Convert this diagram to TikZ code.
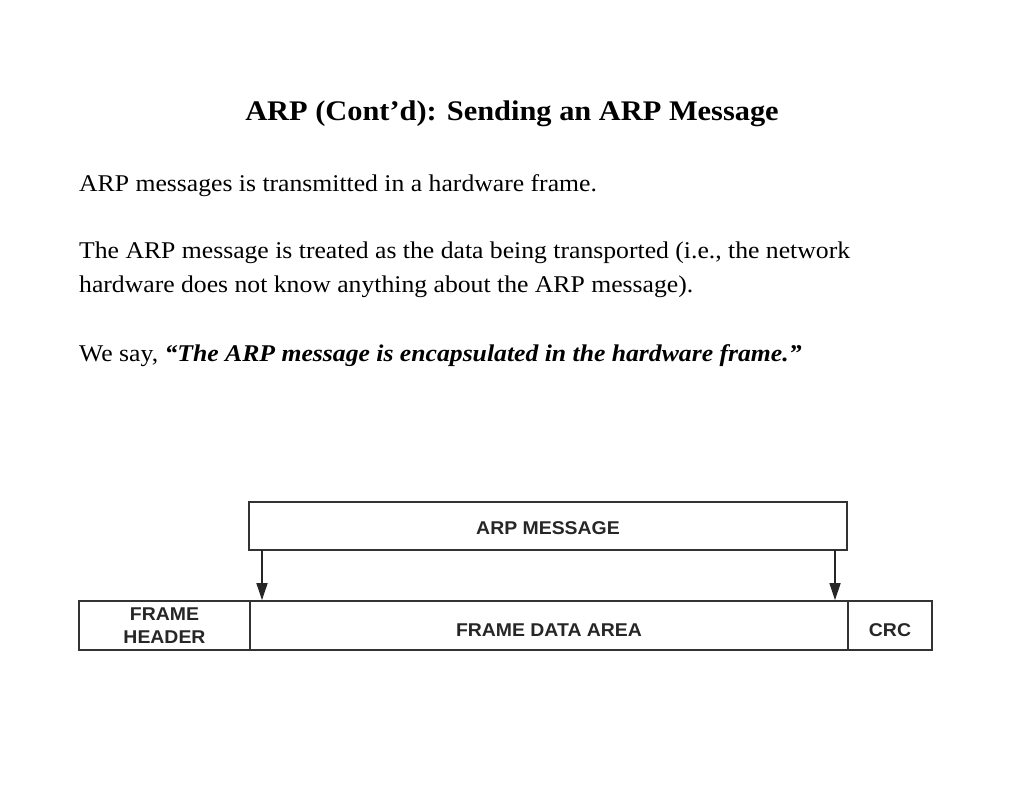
\documentclass[tikz,border=0pt]{standalone}
\usepackage{fontspec}
\setmainfont{Liberation Serif}[FakeStretch=1.07]
\newfontfamily\diagfont{Liberation Sans}[FakeStretch=1.05]
\usetikzlibrary{arrows.meta}
\begin{document}
\begin{tikzpicture}[x=1pt,y=-1pt,
  body/.style={anchor=base west,inner sep=0pt,font=\fontsize{24}{28}\selectfont},
  field/.style={draw=black!80,line width=1.6pt,inner sep=0pt,font=\diagfont\bfseries\fontsize{18.5}{21}\selectfont,align=center,text=black!85},
  lowlabel/.style={text height=21pt,text depth=0pt},
  conn/.style={draw=black!85,line width=1.4pt,-{Triangle[length=17pt,width=11pt]}}]
\useasboundingbox (0,0) rectangle (1024,791);
\node[anchor=base,inner sep=0pt,font=\bfseries\fontsize{28.4}{33}\selectfont] (title) at (512,121) {ARP (Cont’d): Sending an ARP Message};
\node[body] (l1) at (79,192) {ARP messages is transmitted in a hardware frame.};
\node[body] (l2) at (79,259) {The ARP message is treated as the data being transported (i.e., the network};
\node[body] (l3) at (79,293) {hardware does not know anything about the ARP message).};
\node[body] (l4) at (79,361) {We say, \textbf{\textit{“The ARP message is encapsulated in the hardware frame.”}}};
\node[field,minimum width=598pt,minimum height=48pt,text height=17pt,text depth=0pt] (arp) at (548,526) {ARP MESSAGE};
\node[field,minimum width=171pt,minimum height=49pt,text height=36pt,text depth=0pt] (hdr) at (164.5,625.5) {FRAME\\[2pt]HEADER};
\node[field,lowlabel,minimum width=598pt,minimum height=49pt] (data) at (549,625.5) {FRAME DATA AREA};
\node[field,lowlabel,minimum width=84pt,minimum height=49pt] (crc) at (890,625.5) {CRC};
\coordinate (a1s) at (262,550);
\coordinate (a2s) at (835,550);
\draw[conn] (a1s) -- (a1s |- data.north);
\draw[conn] (a2s) -- (a2s |- data.north);
\end{tikzpicture}
\end{document}
